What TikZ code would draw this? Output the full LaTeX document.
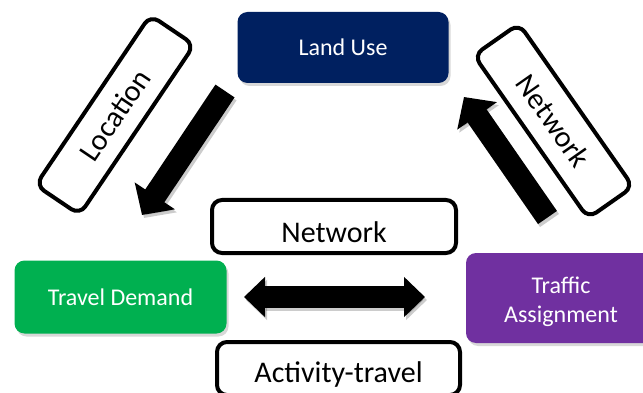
\documentclass[tikz,border=0pt]{standalone}
\usepackage{fontspec}
\setmainfont{Carlito}
\usetikzlibrary{arrows.meta,shadows}
\definecolor{luNavy}{HTML}{002060}
\definecolor{tdGreen}{HTML}{00B050}
\definecolor{taPurple}{HTML}{7030A0}
\begin{document}
\begin{tikzpicture}[x=1pt,y=-1pt,
  colorbox/.style={rounded corners=10pt, text=white, font=\fontsize{24}{29}\selectfont,
    inner sep=0pt, align=center,
    drop shadow={opacity=0.3, shadow xshift=2pt, shadow yshift=-3pt}},
  whitetext/.style={text=white, font=\fontsize{24}{29}\selectfont, inner sep=0pt, align=center},
  labelbox/.style={draw=black, line width=4pt, rounded corners=10pt, fill=white, inner sep=0pt},
  labeltext/.style={font=\fontsize{30}{36}\selectfont},
  bigarrow/.style={line width=23pt, -{Triangle[width=47pt,length=23pt]}},
  dblarrow/.style={line width=22pt, {Triangle[width=39pt,length=21pt]}-{Triangle[width=39pt,length=21pt]}},
  arrowshadow/.style={black, opacity=0.2, transform canvas={shift={(2pt,-3pt)}}},
]
\useasboundingbox (0,0) rectangle (643,393);
\clip (0,0) rectangle (643,393);
\fill[white] (0,0) rectangle (643,393);

% coloured boxes
\node[colorbox, fill=luNavy, minimum width=211pt, minimum height=71pt] (landuse) at (343,47.5) {Land Use};
\node[colorbox, fill=tdGreen, minimum width=212pt, minimum height=73pt] (demand) at (120.5,297) {Travel Demand};
\node[colorbox, fill=taPurple, minimum width=190pt, minimum height=90pt] (assign) at (561,298) {};
\node[whitetext] (assigntext) at (561,302) {Traffic\\Assignment};

% label boxes
\node[labelbox, minimum width=244pt, minimum height=53pt] (netbox) at (334,226.5) {};
\node[labeltext, anchor=base] (nettext) at (334,242) {Network};
\node[labelbox, minimum width=243pt, minimum height=53pt] (actbox) at (338.5,368.5) {};
\node[labeltext, anchor=base] (acttext) at (338.5,382) {Activity-travel};
\node[labelbox, labeltext, minimum width=205pt, minimum height=53pt, rotate=56] (locbox) at (115,115) {Location};
\node[labelbox, labeltext, minimum width=199pt, minimum height=55pt, rotate=-55] (netrot) at (553.5,121) {Network};

% arrows
\coordinate (locS) at (225,91);
\coordinate (locE) at (142,215);
\coordinate (netS) at (547.5,217.5);
\coordinate (netE) at (464,97);
\coordinate (dblL) at (244,297);
\coordinate (dblR) at (425,297);

\draw[bigarrow, arrowshadow] (locS) -- (locE);
\draw[bigarrow, arrowshadow] (netS) -- (netE);
\draw[dblarrow, arrowshadow] (dblL) -- (dblR);

\draw[bigarrow] (locS) -- (locE);
\draw[bigarrow] (netS) -- (netE);
\draw[dblarrow] (dblL) -- (dblR);
\end{tikzpicture}
\end{document}
